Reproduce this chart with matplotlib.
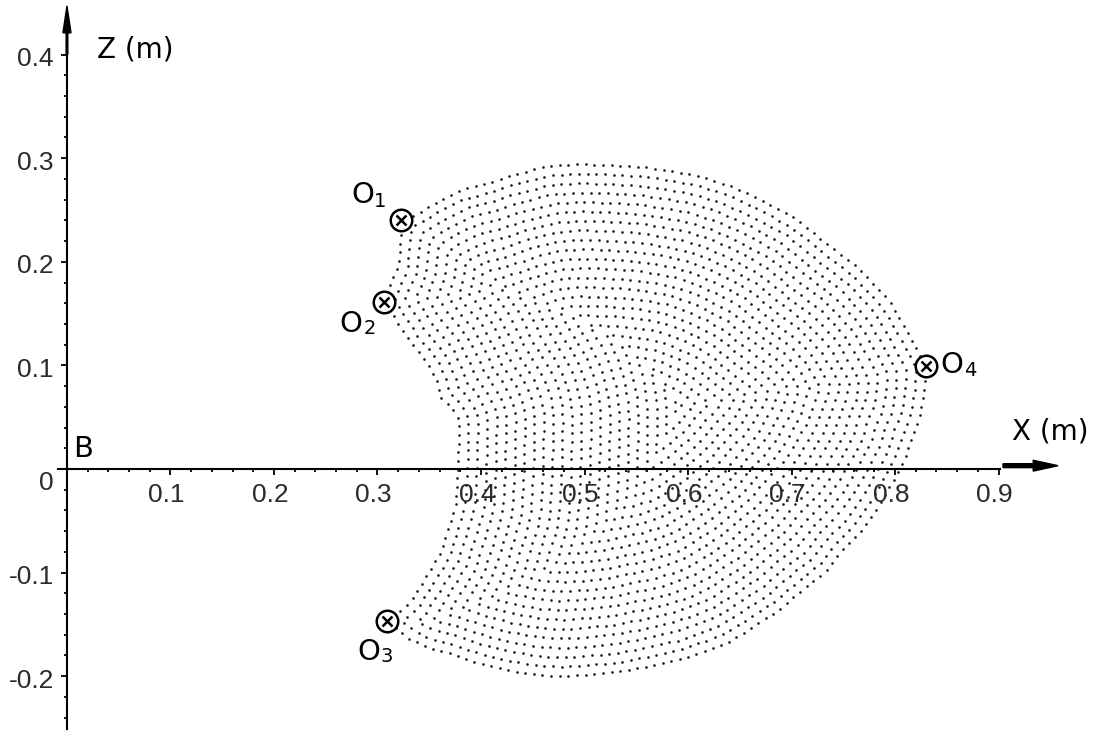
import numpy as np
import matplotlib
matplotlib.use('Agg')
import matplotlib.pyplot as plt
from matplotlib.path import Path
from matplotlib.ticker import FixedLocator
import contourpy

# outline of the reachable region (m)
# outer edge: O1 -> top -> O4 -> bottom -> O3
outer_x = [0.323, 0.338, 0.354, 0.380, 0.404, 0.431, 0.464, 0.496, 0.528, 0.560,
           0.586, 0.609, 0.641, 0.672, 0.705, 0.737, 0.766, 0.795, 0.812, 0.824,
           0.830, 0.829, 0.824, 0.817, 0.811, 0.802, 0.793, 0.784, 0.766, 0.750,
           0.734, 0.711, 0.689, 0.663, 0.641, 0.621, 0.595, 0.557, 0.537, 0.508,
           0.479, 0.450, 0.421, 0.394, 0.367, 0.348, 0.331, 0.322, 0.309]
outer_z = [0.240, 0.247, 0.257, 0.270, 0.276, 0.285, 0.293, 0.295, 0.294, 0.292,
           0.288, 0.284, 0.274, 0.260, 0.242, 0.216, 0.194, 0.163, 0.134, 0.112,
           0.099, 0.076, 0.047, 0.031, 0.012, -0.006, -0.022, -0.038, -0.062, -0.078,
           -0.099, -0.117, -0.136, -0.153, -0.167, -0.175, -0.184, -0.192, -0.196, -0.199,
           -0.201, -0.199, -0.194, -0.187, -0.178, -0.173, -0.165, -0.158, -0.147]
# inner (left) edge: O3 -> O2 -> O1
inner_x = [0.331, 0.351, 0.360, 0.368, 0.375, 0.377, 0.378, 0.370, 0.360, 0.357,
           0.348, 0.331, 0.315, 0.306, 0.310, 0.319, 0.322]
inner_z = [-0.128, -0.096, -0.081, -0.056, -0.033, 0.002, 0.047, 0.060, 0.069, 0.083,
           0.102, 0.122, 0.147, 0.161, 0.175, 0.195, 0.223]

# special points
pt_names = ['1', '2', '3', '4']
pt_x = [0.323, 0.306, 0.309, 0.830]
pt_z = [0.240, 0.161, -0.147, 0.099]
# label anchors (left, baseline) for "O" and its index
lab_x = [0.2744, 0.2628, 0.2802, 0.8435]
lab_z = [0.2568, 0.1322, -0.1844, 0.0927]
sub_x = [0.2965, 0.2869, 0.3033, 0.8666]
sub_z = [0.2529, 0.1303, -0.1863, 0.0898]

x_ticks = [0.1, 0.2, 0.3, 0.4, 0.5, 0.6, 0.7, 0.8, 0.9]
x_tick_labels = ['0.1', '0.2', '0.3', '0.4', '0.5', '0.6', '0.7', '0.8', '0.9']
z_ticks = [-0.2, -0.1, 0.1, 0.2, 0.3, 0.4]
z_tick_labels = ['-0.2', '-0.1', '0.1', '0.2', '0.3', '0.4']

row_step = 0.0091   # spacing between dot rows
dot_step = 0.0084   # spacing of dots along a row

# fill the region with rows of dots following its outline
poly = np.column_stack([outer_x + inner_x, outer_z + inner_z])
gx = np.arange(0.27, 0.87, 0.001)
gz = np.arange(-0.23, 0.31, 0.001)
GX, GZ = np.meshgrid(gx, gz)
pts = np.column_stack([GX.ravel(), GZ.ravel()])
dmin = np.full(len(pts), np.inf)
for a, b in zip(poly, np.roll(poly, -1, axis=0)):
    ab = b - a
    t = np.clip(((pts - a) @ ab) / (ab @ ab), 0, 1)
    d = np.hypot(*(pts - (a + t[:, None] * ab)).T)
    dmin = np.minimum(dmin, d)
inside = Path(poly).contains_points(pts)
sd = np.where(inside, dmin, -dmin).reshape(GX.shape)

gen = contourpy.contour_generator(GX, GZ, sd, line_type='Separate')
dots = []
lvl = 0.0008
while lvl < sd.max():
    for line in gen.lines(lvl):
        s = np.concatenate([[0], np.cumsum(np.hypot(*np.diff(line, axis=0).T))])
        n = int(round(s[-1] / dot_step))
        if n < 1:
            dots.append(line.mean(axis=0)[None, :])
            continue
        si = np.arange(n) * s[-1] / n
        dots.append(np.column_stack([np.interp(si, s, line[:, 0]), np.interp(si, s, line[:, 1])]))
    lvl += row_step
dots = np.vstack(dots)

fig = plt.figure(figsize=(11.01, 7.40), dpi=100)
ax = fig.add_axes([0, 0, 1, 1])
ax.set_xlim(-0.0647, 0.9990)
ax.set_ylim(-0.2616, 0.4527)

ax.scatter(dots[:, 0], dots[:, 1], s=3.6, c='#1a1a1a', linewidths=0, zorder=2)

# axes through the origin
for side in ['top', 'right']:
    ax.spines[side].set_visible(False)
ax.spines['left'].set_position(('data', 0))
ax.spines['bottom'].set_position(('data', 0))
ax.spines['left'].set_bounds(-0.2507, 0.42)
ax.spines['bottom'].set_bounds(-0.0087, 0.9014)
for side in ['left', 'bottom']:
    ax.spines[side].set_linewidth(1.5)
    ax.spines[side].set_zorder(3)

ax.xaxis.set_major_locator(FixedLocator(x_ticks))
ax.yaxis.set_major_locator(FixedLocator(z_ticks + [0.0]))
ax.xaxis.set_minor_locator(FixedLocator([round(v, 2) for v in np.arange(0.02, 0.89, 0.02)]))
ax.yaxis.set_minor_locator(FixedLocator([round(v, 2) for v in np.arange(-0.24, 0.39, 0.02)]))
ax.tick_params(which='both', direction='out', width=1.3, color='black', labelbottom=False, labelleft=False)
ax.tick_params(which='major', length=4.5)
ax.tick_params(which='minor', length=2.3)

tick_font = dict(family='Liberation Sans', size=19, color='#2b2b2b')
for v, lbl in zip(x_ticks, x_tick_labels):
    ax.annotate(lbl, (v, 0), xytext=(-4, -33), textcoords='offset pixels',
                ha='center', va='baseline', **tick_font)
for v, lbl in zip(z_ticks, z_tick_labels):
    ax.annotate(lbl, (0, v), xytext=(-13, -11.5), textcoords='offset pixels',
                ha='right', va='baseline', **tick_font)
ax.annotate('0', (0, 0), xytext=(-13, -21), textcoords='offset pixels',
            ha='right', va='baseline', **tick_font)

# arrows at the ends of the axes
ax.arrow(0, 0.40, 0, 0.047, width=0.0016, head_width=0.0078, head_length=0.026,
         length_includes_head=True, color='black', zorder=3)
ax.arrow(0.9043, 0.0032, 0.0532, 0, width=0.0038, head_width=0.0105, head_length=0.024,
         length_includes_head=True, color='black', zorder=3)

lab_font = dict(family='DejaVu Sans', color='black')
ax.text(0.029, 0.397, 'Z (m)', fontsize=20, ha='left', va='baseline', **lab_font)
ax.text(0.913, 0.028, 'X (m)', fontsize=20, ha='left', va='baseline', **lab_font)
ax.text(0.0058, 0.0116, 'B', fontsize=21, ha='left', va='baseline', **lab_font)

# marked points
ax.plot(pt_x, pt_z, 'o', ms=15.5, mfc='white', mec='black', mew=1.8, zorder=4)
ax.plot(pt_x, pt_z, 'x', ms=6.5, mec='black', mew=1.8, zorder=5)
for i in range(len(pt_names)):
    ax.text(lab_x[i], lab_z[i], 'O', fontsize=21, ha='left', va='baseline', **lab_font)
    ax.text(sub_x[i], sub_z[i], pt_names[i], fontsize=14, ha='left', va='baseline', **lab_font)

fig.savefig('out.png', dpi=100, facecolor='white')
